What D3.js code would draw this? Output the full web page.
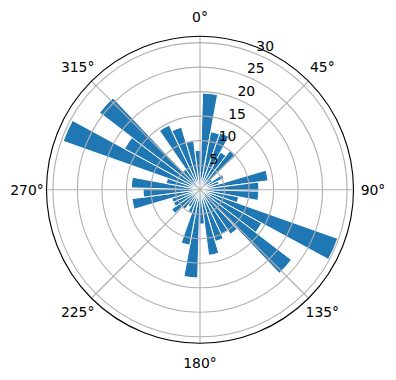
<!DOCTYPE html>
<html>
<head>
<meta charset="utf-8">
<script src="https://cdn.jsdelivr.net/npm/d3@7"></script>
<style>
  body { margin: 0; background: #fff; }
  svg { display: block; font-family: "DejaVu Sans", sans-serif; }
</style>
</head>
<body>
<div id="chart"></div>
<script>
'use strict';

// bar centres (degrees, clockwise from north) and lengths
var barAngles = [6, 15, 24, 33, 42, 51, 60, 69, 78, 87,
                 96, 105, 114, 123, 132, 141, 150, 159, 168, 177,
                 186, 195, 204, 213, 222, 231, 240, 249, 258, 267,
                 276, 285, 294, 303, 312, 321, 330, 339, 348, 357];
var barRadii = [19.7, 12, 12.3, 8.7, 10, 3, 5.4, 4, 14, 12,
                12, 8, 29.8, 14.3, 23.5, 11, 10, 11, 13.5, 7,
                18, 11.5, 5, 4, 5, 7, 6, 6, 14, 11.6,
                14, 7, 29.6, 17.5, 25.8, 5, 14.6, 13.3, 10, 8];
var barWidth = 9;

var rTicks = [5, 10, 15, 20, 25, 30];
var thetaTicks = [0, 45, 90, 135, 180, 225, 270, 315];
var rMax = 31.3;

function drawPolarBars(el) {
  var width = 396, height = 380;
  var cx = 200, cy = 189.7, R = 153.5;
  var rad = Math.PI / 180;

  var svg = d3.select(el).append("svg")
    .attr("width", width)
    .attr("height", height);

  var r = d3.scaleLinear().domain([0, rMax]).range([0, R]);

  var g = svg.append("g").attr("transform", "translate(" + cx + "," + cy + ")");

  // bars first, grid drawn over them like matplotlib does
  var arc = d3.arc()
    .innerRadius(0)
    .outerRadius(function(d) { return r(d.v); })
    .startAngle(function(d) { return (d.a - barWidth / 2) * rad; })
    .endAngle(function(d) { return (d.a + barWidth / 2) * rad; });

  var bars = barAngles.map(function(a, i) { return {a: a, v: barRadii[i]}; });

  g.append("g").selectAll("path")
    .data(bars)
    .enter().append("path")
    .attr("d", arc)
    .attr("fill", "#1f77b4")
    .attr("stroke", "#fff")
    .attr("stroke-width", 1)
    .attr("stroke-linejoin", "miter");

  // grid circles
  g.append("g").selectAll("circle")
    .data(rTicks)
    .enter().append("circle")
    .attr("r", function(d) { return r(d); })
    .attr("fill", "none")
    .attr("stroke", "#b0b0b0")
    .attr("stroke-width", 1.1);

  // spokes
  g.append("g").selectAll("line")
    .data(thetaTicks)
    .enter().append("line")
    .attr("x1", 0).attr("y1", 0)
    .attr("x2", function(d) { return R * Math.sin(d * rad); })
    .attr("y2", function(d) { return -R * Math.cos(d * rad); })
    .attr("stroke", "#b0b0b0")
    .attr("stroke-width", 1.1);

  // outer frame
  g.append("circle")
    .attr("r", R)
    .attr("fill", "none")
    .attr("stroke", "#000")
    .attr("stroke-width", 1.1);

  // angle labels
  g.append("g").selectAll("text")
    .data(thetaTicks)
    .enter().append("text")
    .attr("x", function(d) { return 173 * Math.sin(d * rad); })
    .attr("y", function(d) { return -173 * Math.cos(d * rad); })
    .attr("text-anchor", "middle")
    .attr("dominant-baseline", "central")
    .style("font-size", "13.9px")
    .style("fill", "#000")
    .text(function(d) { return d + "°"; });

  // radial labels at 22.5 degrees
  g.append("g").selectAll("text")
    .data(rTicks)
    .enter().append("text")
    .attr("x", function(d) { return r(d) * Math.sin(22.5 * rad); })
    .attr("y", function(d) { return -r(d) * Math.cos(22.5 * rad) - 3; })
    .attr("text-anchor", "start")
    .style("font-size", "13.9px")
    .style("fill", "#000")
    .text(function(d) { return d; });
}

drawPolarBars(document.getElementById("chart"));
</script>
</body>
</html>
